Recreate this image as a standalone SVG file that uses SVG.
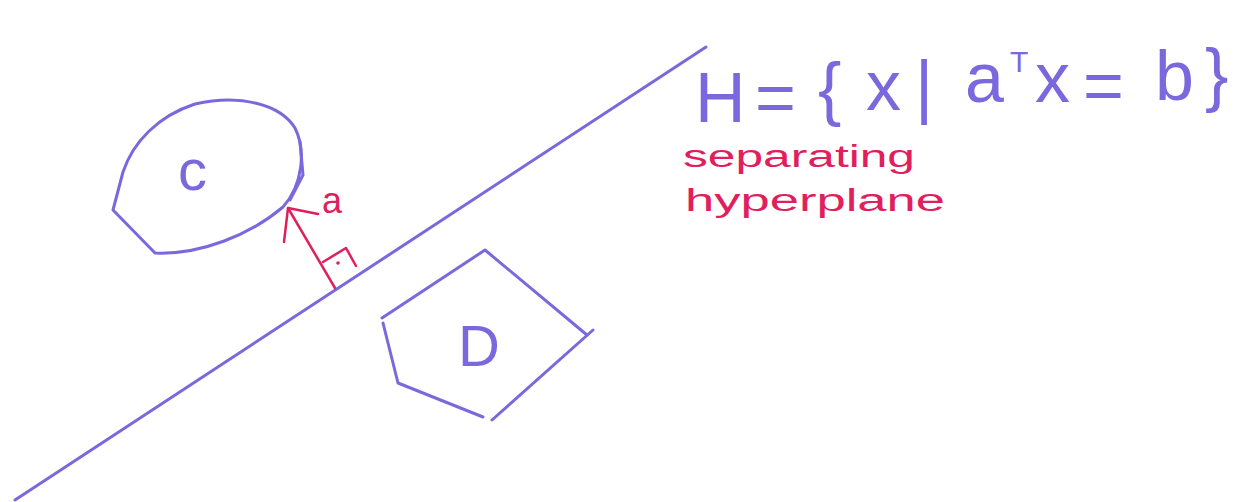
<svg xmlns="http://www.w3.org/2000/svg" width="1258" height="502" viewBox="0 0 1258 502">
<style>
.b{fill:none;stroke:#7a68dc;stroke-width:3;stroke-linecap:round;stroke-linejoin:round}
.r{fill:none;stroke:#e0205c;stroke-width:2.5;stroke-linecap:round;stroke-linejoin:round}
.tb{font-family:"Liberation Sans",Arial,sans-serif;fill:#7a68dc}
.tr{font-family:"Liberation Sans",Arial,sans-serif;fill:#e0205c}
</style>
<rect width="1258" height="502" fill="#ffffff"/>
<g id="hyperplane">
<path class="b" d="M15,500 L706,47"/>
</g>
<g id="C">
<path class="b" d="M283,207 C250,235 200,255 155,253 L113,210 L123,172 C133,142 158,116 195,104 C240,94 280,104 295,128 C306,150 303,185 283,207 Z"/>
<path class="b" d="M300,142 L303,175 L290,200" stroke-width="5"/>
<text class="tb" x="178" y="190" font-size="58">c</text>
</g>
<g id="D">
<path class="b" d="M382,318 L485,250 L587,335"/>
<path class="b" d="M383,323 L398,383 L483,417"/>
<path class="b" d="M492,420 L593,330"/>
<text class="tb" x="458" y="366" font-size="58">D</text>
</g>
<g id="connectors">
<path class="r" d="M335,288 L288,208"/>
<path class="r" d="M288,208 L284,242 M288,208 L318,214"/>
<path class="r" d="M323,262 L346,248 L356,266"/>
<circle cx="338" cy="263" r="1.8" fill="#e0205c"/>
</g>
<g id="label-a">
<text class="tr" x="322" y="213" font-size="36">a</text>
</g>
<g id="equation">
<text class="tb" font-size="70" y="122"><tspan x="695">H</tspan><tspan x="755">=</tspan><tspan x="818" y="112">{</tspan><tspan x="866" y="110">x</tspan><tspan x="915" y="110">|</tspan><tspan x="965" y="102">a</tspan><tspan x="1035" y="102">x</tspan><tspan x="1083" y="110">=</tspan><tspan x="1155" y="100">b</tspan><tspan x="1205" y="98">}</tspan></text>
<text class="tb" font-size="30" x="1010" y="72">T</text>
</g>
<g id="caption">
<text class="tr" x="683" y="167" font-size="31" textLength="232" lengthAdjust="spacingAndGlyphs">separating</text>
<text class="tr" x="685" y="211" font-size="31" textLength="260" lengthAdjust="spacingAndGlyphs">hyperplane</text>
</g>
</svg>
